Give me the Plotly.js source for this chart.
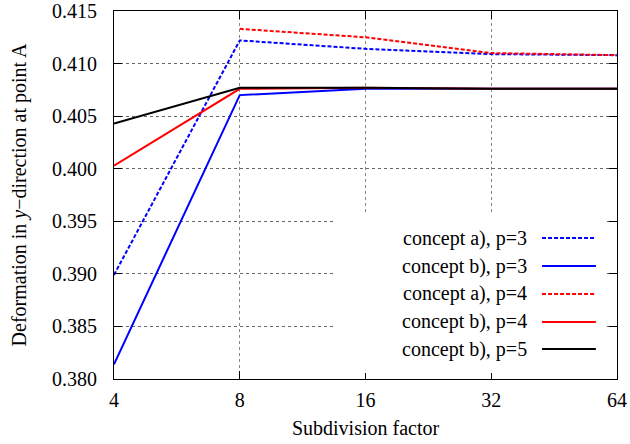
<!DOCTYPE html>
<html>
<head>
<meta charset="utf-8">
<script src="https://cdn.plot.ly/plotly-3.0.1.min.js"></script>
<style>html,body{margin:0;padding:0;background:#fff;}#chart{width:630px;height:444px;}</style>
</head>
<body>
<div id="chart"></div>
<script>
// Data
const subdivision = [4, 8, 16, 32, 64];
const tickLabels = ["4", "8", "16", "32", "64"];
const conceptA_p3 = [0.3899, 0.4122, 0.4114, 0.4109, 0.4108];
const conceptB_p3 = [0.3814, 0.4070, 0.4076, 0.4076, 0.4076];
const conceptA_p4 = [null, 0.4133, 0.4125, 0.4110, 0.4108];
const conceptB_p4 = [0.4003, 0.4076, 0.4077, 0.4076, 0.4076];
const conceptB_p5 = [0.4043, 0.4077, 0.4077, 0.4076, 0.4076];
const seriesNames = ["concept a), p=3", "concept b), p=3", "concept a), p=4", "concept b), p=4", "concept b), p=5"];

const colors = ["#0000ff", "#0000ff", "#ff0000", "#ff0000", "#000000"];
const dashes = ["4px,2px", "solid", "4px,2px", "solid", "solid"];
const values = [conceptA_p3, conceptB_p3, conceptA_p4, conceptB_p4, conceptB_p5];

const font = "Liberation Serif";
const fs = 20;

const traces = values.map((v, i) => ({
  x: subdivision, y: v, type: "scatter", mode: "lines", name: seriesNames[i],
  connectgaps: false,
  line: {color: colors[i], width: 2, dash: dashes[i]}, showlegend: false
}));

// custom legend (text on the left, line sample on the right)
const rowY = [0.383, 0.307, 0.231, 0.155, 0.0815];
const shapes = [{type: "rect", xref: "paper", yref: "paper", x0: 0.44, x1: 0.98, y0: 0.016, y1: 0.452,
  fillcolor: "#ffffff", line: {width: 0}, layer: "above"}];
const annotations = [];
seriesNames.forEach((n, i) => {
  annotations.push({xref: "paper", yref: "paper", x: 0.826, y: rowY[i], xanchor: "right", yanchor: "middle",
    text: n, showarrow: false, font: {family: font, size: fs, color: "#000"}});
  shapes.push({type: "line", xref: "paper", yref: "paper", x0: 0.851, x1: 0.958, y0: rowY[i], y1: rowY[i],
    line: {color: colors[i], width: 2, dash: dashes[i]}, layer: "above"});
});

const layout = {
  width: 630, height: 444,
  margin: {l: 114, r: 13, t: 11, b: 65},
  paper_bgcolor: "#fff", plot_bgcolor: "#fff",
  font: {family: font, size: fs, color: "#000"},
  showlegend: false,
  xaxis: {
    type: "log", range: [Math.log10(4), Math.log10(64)],
    tickvals: subdivision, ticktext: tickLabels,
    ticks: "inside", ticklen: 8, tickcolor: "#000", mirror: "allticks",
    showline: true, linecolor: "#000", linewidth: 1,
    showgrid: true, gridcolor: "#888", griddash: "dot", gridwidth: 1,
    zeroline: false, ticklabelstandoff: 3,
    tickfont: {family: font, size: fs, color: "#000"},
    title: {text: "Subdivision factor", font: {family: font, size: fs, color: "#000"}, standoff: 10}
  },
  yaxis: {
    range: [0.380, 0.415], dtick: 0.005, tick0: 0.380, tickformat: ".3f",
    ticks: "inside", ticklen: 8, tickcolor: "#000", mirror: "allticks",
    showline: true, linecolor: "#000", linewidth: 1,
    showgrid: true, gridcolor: "#666", griddash: "dot", gridwidth: 1,
    zeroline: false, ticklabelstandoff: 12,
    tickfont: {family: font, size: fs, color: "#000"},
    title: {text: "Deformation in <i>y</i>\u2212direction at point A", font: {family: font, size: fs, color: "#000"}, standoff: 20}
  },
  shapes: shapes, annotations: annotations
};

Plotly.newPlot("chart", traces, layout, {staticPlot: true, displayModeBar: false});
</script>
</body>
</html>
